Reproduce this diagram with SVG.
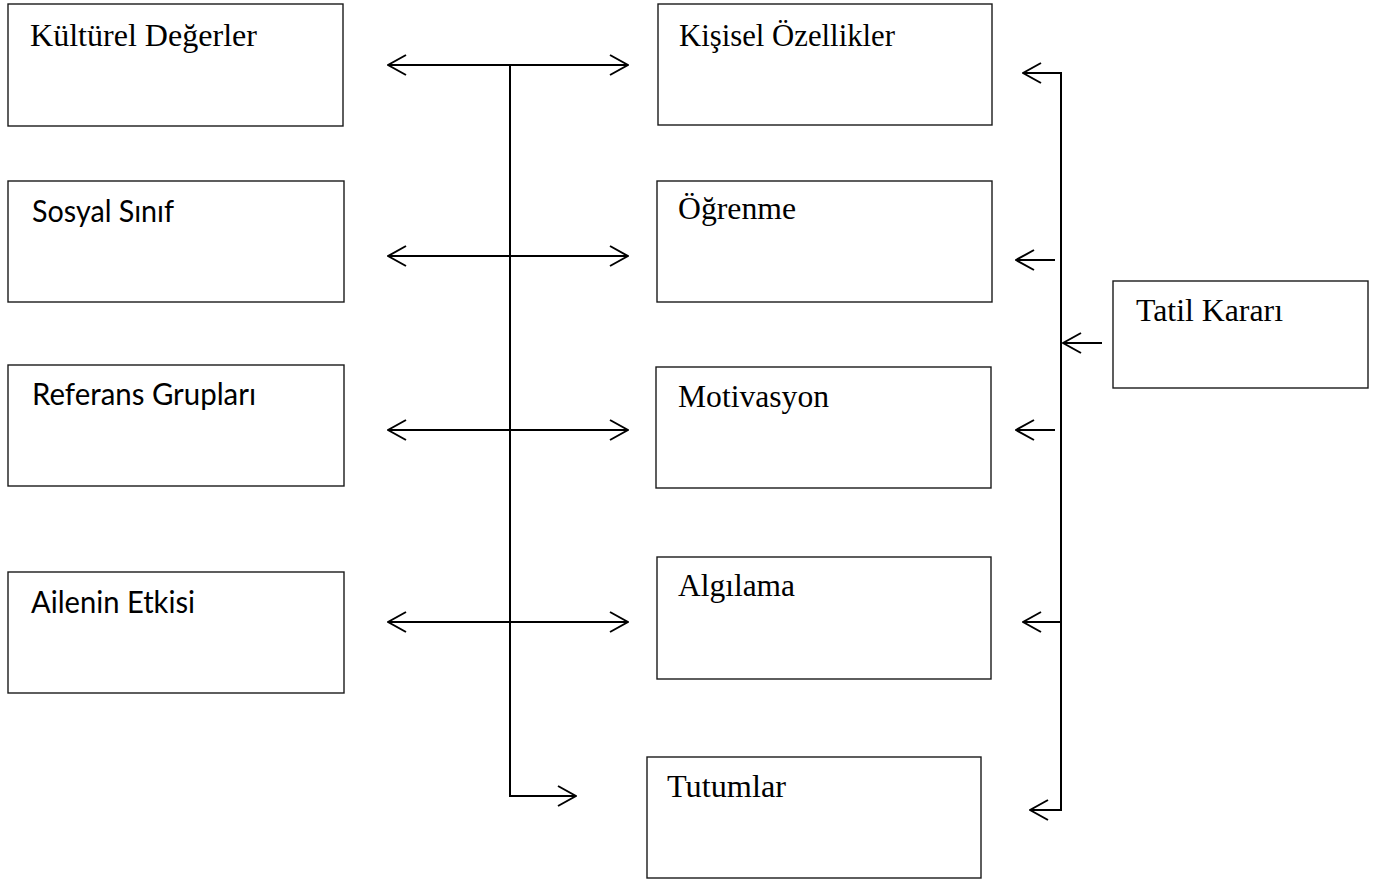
<svg xmlns="http://www.w3.org/2000/svg" width="1373" height="882" viewBox="0 0 1373 882">
  <style>
    .box { fill: #ffffff; stroke: #1a1a1a; stroke-width: 1.4; }
    .serif { font-family: "Liberation Serif", "Times New Roman", serif; font-size: 31px; fill: #000; }
    .sans { font-family: "Lato", "Open Sans", "Liberation Sans", sans-serif; font-size: 30px; fill: #000; }
    .link { fill: none; stroke: #000; stroke-width: 2; }
  </style>
  <defs>
    <marker id="chev" viewBox="0 0 20 22" refX="19" refY="11" markerWidth="20" markerHeight="22" markerUnits="userSpaceOnUse" orient="auto-start-reverse">
      <path d="M1,1 L19,11 L1,21" fill="none" stroke="#000" stroke-width="2"/>
    </marker>
  </defs>
  <rect width="1373" height="882" fill="#ffffff"/>

  <!-- external factors -->
  <g id="kulturel-degerler">
    <rect class="box" x="8" y="4" width="335" height="122"/>
    <text class="serif" x="30" y="46" textLength="227" lengthAdjust="spacingAndGlyphs">Kültürel Değerler</text>
  </g>
  <g id="sosyal-sinif">
    <rect class="box" x="8" y="181" width="336" height="121"/>
    <text class="sans" x="32" y="222" textLength="142" lengthAdjust="spacingAndGlyphs">Sosyal Sınıf</text>
  </g>
  <g id="referans-gruplari">
    <rect class="box" x="8" y="365" width="336" height="121"/>
    <text class="sans" x="32" y="405" textLength="224" lengthAdjust="spacingAndGlyphs">Referans Grupları</text>
  </g>
  <g id="ailenin-etkisi">
    <rect class="box" x="8" y="572" width="336" height="121"/>
    <text class="sans" x="31" y="613" textLength="164" lengthAdjust="spacingAndGlyphs">Ailenin Etkisi</text>
  </g>

  <!-- internal factors -->
  <g id="kisisel-ozellikler">
    <rect class="box" x="658" y="4" width="334" height="121"/>
    <text class="serif" x="679" y="46" textLength="216" lengthAdjust="spacingAndGlyphs">Kişisel Özellikler</text>
  </g>
  <g id="ogrenme">
    <rect class="box" x="657" y="181" width="335" height="121"/>
    <text class="serif" x="678" y="219" textLength="118" lengthAdjust="spacingAndGlyphs">Öğrenme</text>
  </g>
  <g id="motivasyon">
    <rect class="box" x="656" y="367" width="335" height="121"/>
    <text class="serif" x="678" y="407" textLength="151" lengthAdjust="spacingAndGlyphs">Motivasyon</text>
  </g>
  <g id="algilama">
    <rect class="box" x="657" y="557" width="334" height="122"/>
    <text class="serif" x="678" y="596" textLength="117" lengthAdjust="spacingAndGlyphs">Algılama</text>
  </g>
  <g id="tutumlar">
    <rect class="box" x="647" y="757" width="334" height="121"/>
    <text class="serif" x="667" y="797" textLength="119" lengthAdjust="spacingAndGlyphs">Tutumlar</text>
  </g>

  <!-- decision -->
  <g id="tatil-karari">
    <rect class="box" x="1113" y="281" width="255" height="107"/>
    <text class="serif" x="1136" y="321" textLength="147" lengthAdjust="spacingAndGlyphs">Tatil Kararı</text>
  </g>

  <g id="connectors">
    <!-- two-way links between external and internal factors -->
    <path class="link" d="M388,65 H628" marker-start="url(#chev)" marker-end="url(#chev)"/>
    <path class="link" d="M388,256 H628" marker-start="url(#chev)" marker-end="url(#chev)"/>
    <path class="link" d="M388,430 H628" marker-start="url(#chev)" marker-end="url(#chev)"/>
    <path class="link" d="M388,622 H628" marker-start="url(#chev)" marker-end="url(#chev)"/>
    <path class="link" d="M441,65 H510" stroke-width="2.6"/>
    <!-- central spine down to attitudes -->
    <path class="link" d="M510,65 V796 H576" marker-end="url(#chev)"/>

    <!-- decision bus on the right -->
    <path class="link" d="M1023,73 H1061 V810 H1030" marker-start="url(#chev)" marker-end="url(#chev)"/>
    <path class="link" d="M1055,260 H1016" marker-end="url(#chev)"/>
    <path class="link" d="M1055,430 H1016" marker-end="url(#chev)"/>
    <path class="link" d="M1061,622 H1023" marker-end="url(#chev)"/>
    <path class="link" d="M1102,343 H1063" marker-end="url(#chev)"/>
  </g>
</svg>
